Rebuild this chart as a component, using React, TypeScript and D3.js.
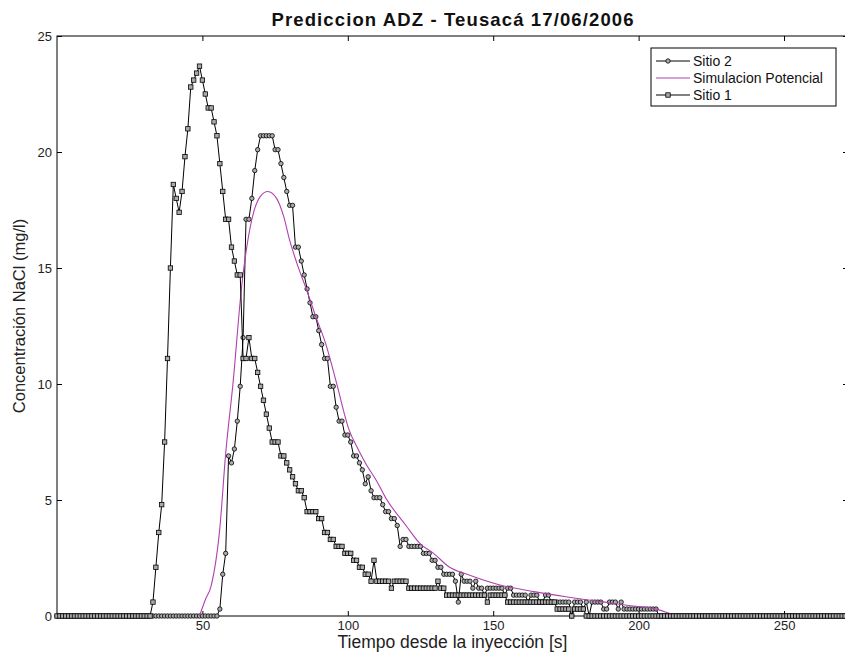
import React, { useEffect, useRef } from 'react'
import * as d3 from 'd3'

const WIDTH = 845
const HEIGHT = 654

const title = 'Prediccion ADZ - Teusacá 17/06/2006'
const xLabel = 'Tiempo desde la inyección [s]'
const yLabel = 'Concentración NaCl (mg/l)'
const legendLabels = ['Sitio 2', 'Simulacion Potencial', 'Sitio 1']

const xTicks = [50, 100, 150, 200, 250]
const yTicks = [0, 5, 10, 15, 20, 25]

// measured series, one reading per second starting at t = 0
const sitio1 = [
  0, 0, 0, 0, 0, 0, 0, 0, 0, 0, 0, 0, 0, 0, 0, 0, 0, 0, 0, 0,
  0, 0, 0, 0, 0, 0, 0, 0, 0, 0,
  0, 0, 0, 0.6, 2.1, 3.6, 4.8, 7.5, 11.1, 15.0,
  18.6, 18.0, 17.4, 18.3, 19.8, 21.0, 22.8, 23.1, 23.4, 23.7,
  23.1, 22.5, 21.9, 21.9, 21.3, 20.7, 19.5, 18.3, 17.1, 17.1,
  15.9, 15.3, 14.7, 14.7, 11.1, 11.1, 12.0, 11.1, 11.1, 10.5,
  9.9, 9.3, 8.7, 8.1, 7.5, 7.5, 7.5, 6.9, 6.9, 6.6,
  6.3, 6.0, 5.7, 5.4, 5.4, 5.1, 4.5, 4.5, 4.5, 4.5,
  4.2, 4.2, 3.6, 3.6, 3.3, 3.3, 3.0, 3.0, 3.0, 2.7,
  2.7, 2.7, 2.4, 2.4, 2.1, 2.1, 1.8, 1.8, 1.5, 2.4,
  1.5, 1.5, 1.5, 1.5, 1.5, 1.2, 1.5, 1.5, 1.5, 1.5,
  1.5, 1.2, 1.2, 1.2, 1.2, 1.2, 1.2, 1.2, 1.2, 1.2,
  1.2, 1.5, 1.2, 1.2, 0.9, 0.9, 0.9, 0.9, 0.9, 0.9,
  0.9, 0.9, 0.9, 0.9, 0.9, 0.9, 0.9, 0.9, 0.6, 0.9,
  0.9, 0.9, 0.9, 0.9, 0.9, 0.6, 0.6, 0.6, 0.6, 0.6,
  0.6, 0.6, 0.6, 0.6, 0.6, 0.6, 0.6, 0.6, 0.6, 0.6,
  0.6, 0.6, 0.3, 0.3, 0.3, 0.3, 0.3, 0, 0.3, 0.3,
  0.3, 0.3, 0, 0, 0, 0, 0, 0, 0, 0,
  0, 0, 0, 0, 0, 0, 0, 0, 0, 0, 0, 0, 0, 0, 0, 0, 0, 0, 0, 0,
  0, 0, 0, 0, 0, 0, 0, 0, 0, 0, 0, 0, 0, 0, 0, 0, 0, 0, 0, 0,
  0, 0, 0, 0, 0, 0, 0, 0, 0, 0, 0, 0, 0, 0, 0, 0, 0, 0, 0, 0,
  0, 0, 0, 0, 0, 0, 0, 0, 0, 0, 0, 0, 0, 0, 0, 0, 0, 0, 0, 0,
  0, 0, 0,
]

const sitio2 = [
  0, 0, 0, 0, 0, 0, 0, 0, 0, 0, 0, 0, 0, 0, 0, 0, 0, 0, 0, 0,
  0, 0, 0, 0, 0, 0, 0, 0, 0, 0, 0, 0, 0, 0, 0, 0, 0, 0, 0, 0,
  0, 0, 0, 0, 0, 0, 0, 0, 0, 0,
  0, 0, 0, 0, 0, 0, 0.3, 1.8, 2.7, 6.9,
  6.6, 7.2, 8.4, 9.9, 12.0, 17.1, 17.1, 18.0, 19.2, 20.1,
  20.7, 20.7, 20.7, 20.7, 20.7, 20.1, 20.1, 19.5, 18.9, 18.3,
  17.7, 17.7, 15.9, 15.9, 15.3, 14.7, 14.1, 13.5, 12.9, 12.9,
  12.3, 11.7, 11.1, 11.1, 9.9, 9.9, 9.0, 8.4, 8.4, 7.8,
  7.8, 7.5, 6.9, 6.9, 6.6, 6.3, 5.7, 6.0, 5.4, 5.1,
  5.1, 5.1, 4.8, 4.5, 4.5, 4.2, 4.2, 3.9, 3.0, 3.3,
  3.3, 3.0, 3.0, 3.0, 3.0, 3.0, 2.7, 2.7, 2.7, 2.4,
  2.4, 2.1, 2.1, 1.8, 1.8, 1.8, 1.8, 1.5, 0.6, 1.8,
  1.5, 1.5, 1.5, 1.2, 1.5, 1.2, 1.2, 0.9, 1.2, 1.2,
  1.2, 1.2, 1.2, 1.2, 0.9, 1.2, 1.2, 0.9, 0.9, 0.9,
  0.9, 0.9, 0.6, 0.9, 0.9, 0.9, 0.6, 0.6, 0.9, 0.9,
  0.6, 0.6, 0.6, 0.6, 0.6, 0.6, 0.6, 0, 0.6, 0.6,
  0.6, 0.3, 0.6, 0, 0.6, 0.6, 0.6, 0.6, 0.3, 0.3,
  0.6, 0.6, 0.6, 0.3, 0.6, 0.3, 0.3, 0.3, 0.3, 0.3,
  0.3, 0.3, 0.3, 0.3, 0.3, 0.3, 0.3, 0, 0, 0,
  0, 0, 0, 0, 0, 0, 0, 0, 0, 0, 0, 0, 0, 0, 0, 0, 0, 0, 0, 0,
  0, 0, 0, 0, 0, 0, 0, 0, 0, 0, 0, 0, 0, 0, 0, 0, 0, 0, 0, 0,
  0, 0, 0, 0, 0, 0, 0, 0, 0, 0, 0, 0, 0, 0, 0, 0, 0, 0, 0, 0,
  0, 0, 0,
]

// simulated curve (potential model)
const simTime = [49, 51, 53, 56, 58, 60.5, 63.5, 67, 70, 72.5, 75.5, 78, 80, 82.5, 86, 89, 92.5, 96, 100.5, 103.5, 106.5, 110, 113, 120, 125, 129.5, 135, 141, 152, 164, 175, 187, 198, 205, 215, 272]
const simValue = [0, 0.7, 1.3, 3.8, 7.0, 10.0, 14.2, 17.1, 18.1, 18.3, 18.0, 17.2, 16.2, 15.2, 14.0, 12.9, 11.7, 10.1, 8.0, 7.2, 6.5, 5.8, 5.1, 3.9, 3.1, 2.7, 2.1, 1.8, 1.35, 1.05, 0.83, 0.62, 0.43, 0.33, 0, 0]

const SIM_COLOR = '#b040b0'
const FONT = '"Liberation Sans", Arial, Helvetica, sans-serif'

export default function App() {
  const ref = useRef<SVGSVGElement>(null)

  useEffect(() => {
    const node = ref.current
    if (!node) return
    const svg = d3.select(node)
    svg.selectAll('*').remove()

    const plot = { left: 57, top: 36, right: 848, bottom: 616 }

    const x = d3.scaleLinear().domain([0, 272]).range([plot.left, plot.right])
    const y = d3.scaleLinear().domain([0, 25]).range([plot.bottom, plot.top])

    svg.append('rect').attr('width', WIDTH).attr('height', HEIGHT).attr('fill', '#fff')

    // axes with inward ticks on all four sides
    const styleAxis = (g: any) => {
      g.select('.domain').remove()
      g.selectAll('line').attr('stroke', '#000')
      g.selectAll('text').attr('fill', '#222').attr('font-size', 13).attr('font-family', FONT)
    }

    svg.append('g')
      .attr('transform', `translate(0,${plot.bottom})`)
      .call(d3.axisBottom(x).tickValues(xTicks).tickSizeInner(-5).tickSizeOuter(0).tickPadding(5))
      .call(styleAxis)

    svg.append('g')
      .attr('transform', `translate(0,${plot.top})`)
      .call(d3.axisTop(x).tickValues(xTicks).tickSizeInner(-5).tickSizeOuter(0).tickFormat(() => ''))
      .call(styleAxis)

    svg.append('g')
      .attr('transform', `translate(${plot.left},0)`)
      .call(d3.axisLeft(y).tickValues(yTicks).tickSizeInner(-5).tickSizeOuter(0).tickPadding(5))
      .call(styleAxis)

    svg.append('g')
      .attr('transform', `translate(${plot.right},0)`)
      .call(d3.axisRight(y).tickValues(yTicks).tickSizeInner(-5).tickSizeOuter(0).tickFormat(() => ''))
      .call(styleAxis)

    svg.append('rect')
      .attr('x', plot.left).attr('y', plot.top)
      .attr('width', plot.right - plot.left).attr('height', plot.bottom - plot.top)
      .attr('fill', 'none').attr('stroke', '#000').attr('stroke-width', 1)

    const s1 = sitio1.map((v, i) => ({ t: i, v }))
    const s2 = sitio2.map((v, i) => ({ t: i, v }))
    const sim = simTime.map((t, i) => ({ t, v: simValue[i] }))

    const line = d3.line<{ t: number; v: number }>().x(d => x(d.t)).y(d => y(d.v))
    const smooth = d3.line<{ t: number; v: number }>().x(d => x(d.t)).y(d => y(d.v)).curve(d3.curveMonotoneX)

    // Sitio 2 (circles)
    svg.append('path').datum(s2)
      .attr('d', line).attr('fill', 'none').attr('stroke', '#000').attr('stroke-width', 1)
    svg.append('g').selectAll('circle').data(s2).join('circle')
      .attr('cx', d => x(d.t)).attr('cy', d => y(d.v)).attr('r', 2.2)
      .attr('fill', '#aaa').attr('stroke', '#000').attr('stroke-width', 0.8)

    // simulation
    svg.append('path').datum(sim)
      .attr('d', smooth).attr('fill', 'none')
      .attr('stroke', SIM_COLOR).attr('stroke-width', 1.1)

    // Sitio 1 (squares)
    svg.append('path').datum(s1)
      .attr('d', line).attr('fill', 'none').attr('stroke', '#000').attr('stroke-width', 1)
    svg.append('g').selectAll('rect').data(s1).join('rect')
      .attr('x', d => x(d.t) - 2.2).attr('y', d => y(d.v) - 2.2)
      .attr('width', 4.4).attr('height', 4.4)
      .attr('fill', '#aaa').attr('stroke', '#000').attr('stroke-width', 0.8)

    // legend
    const lg = svg.append('g')
    lg.append('rect')
      .attr('x', 651).attr('y', 48).attr('width', 185).attr('height', 58)
      .attr('fill', '#fff').attr('stroke', '#000').attr('stroke-width', 1)
    legendLabels.forEach((label, i) => {
      const ry = 61 + i * 17
      lg.append('line').attr('x1', 656).attr('x2', 690).attr('y1', ry).attr('y2', ry)
        .attr('stroke', label.startsWith('Sim') ? SIM_COLOR : '#000').attr('stroke-width', 1)
      if (label === 'Sitio 2') {
        lg.append('circle').attr('cx', 668).attr('cy', ry).attr('r', 2.2)
          .attr('fill', '#aaa').attr('stroke', '#000').attr('stroke-width', 0.8)
      } else if (label === 'Sitio 1') {
        lg.append('rect').attr('x', 668 - 2.2).attr('y', ry - 2.2).attr('width', 4.4).attr('height', 4.4)
          .attr('fill', '#aaa').attr('stroke', '#000').attr('stroke-width', 0.8)
      }
      lg.append('text').attr('x', 693).attr('y', ry + 5)
        .attr('font-family', FONT).attr('font-size', 14).attr('fill', '#111')
        .text(label)
    })

    // titles
    svg.append('text')
      .attr('x', (plot.left + plot.right) / 2).attr('y', 26)
      .attr('text-anchor', 'middle').attr('font-family', FONT).attr('font-size', 18.5)
      .attr('font-weight', 'bold').attr('fill', '#111')
      .attr('textLength', 362).attr('lengthAdjust', 'spacing')
      .text(title)

    svg.append('text')
      .attr('x', (plot.left + plot.right) / 2).attr('y', 648)
      .attr('text-anchor', 'middle').attr('font-family', FONT).attr('font-size', 17.5)
      .attr('fill', '#222').text(xLabel)

    svg.append('text')
      .attr('transform', `translate(25,316) rotate(-90)`)
      .attr('text-anchor', 'middle').attr('font-family', FONT).attr('font-size', 16.5)
      .attr('fill', '#222').text(yLabel)
  }, [])

  return (
    <svg ref={ref} width={WIDTH} height={HEIGHT} style={{ position: 'absolute', left: 0, top: 0 }} />
  )
}
